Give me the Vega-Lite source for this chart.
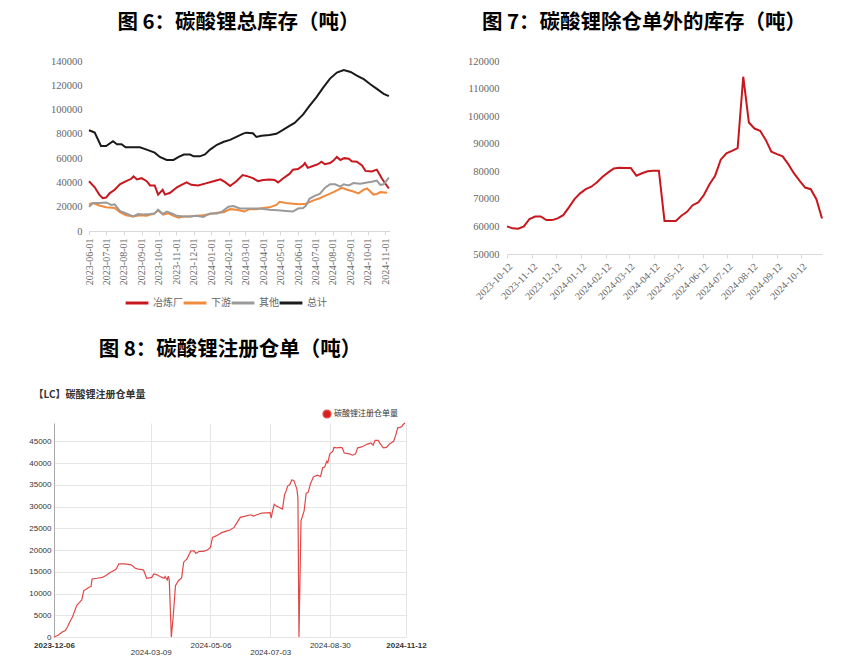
{
  "$schema": "https://vega.github.io/schema/vega-lite/v6.json",
  "padding": {"left": 26, "top": 12, "right": 0, "bottom": 0},
  "background": "white",
  "config": {
    "view": {"stroke": null},
    "title": {"font": "Noto Sans CJK SC", "fontSize": 20.5, "fontWeight": "bold", "color": "#000000", "anchor": "middle"},
    "axis": {"grid": false, "domain": false, "ticks": false, "labelFont": "Liberation Serif", "labelFontSize": 10.5, "labelColor": "#666666", "title": null}
  },
  "resolve": {"scale": {"color": "independent"}, "legend": {"color": "independent"}},
  "columns": 1,
  "align": "none",
  "spacing": 30,
  "datasets": {
    "inv": [
      {"date": "2023-06-01", "series": "总计", "value": 83000},
      {"date": "2023-06-11", "series": "总计", "value": 81000},
      {"date": "2023-06-22", "series": "总计", "value": 70000},
      {"date": "2023-07-01", "series": "总计", "value": 70000},
      {"date": "2023-07-13", "series": "总计", "value": 74000},
      {"date": "2023-07-20", "series": "总计", "value": 71500},
      {"date": "2023-07-28", "series": "总计", "value": 71500},
      {"date": "2023-08-04", "series": "总计", "value": 69000},
      {"date": "2023-08-29", "series": "总计", "value": 69000},
      {"date": "2023-09-10", "series": "总计", "value": 67000},
      {"date": "2023-09-24", "series": "总计", "value": 64500},
      {"date": "2023-10-03", "series": "总计", "value": 61000},
      {"date": "2023-10-15", "series": "总计", "value": 58500},
      {"date": "2023-10-27", "series": "总计", "value": 58500},
      {"date": "2023-11-05", "series": "总计", "value": 61000},
      {"date": "2023-11-14", "series": "总计", "value": 63000},
      {"date": "2023-11-25", "series": "总计", "value": 63000},
      {"date": "2023-12-01", "series": "总计", "value": 61500},
      {"date": "2023-12-12", "series": "总计", "value": 61500},
      {"date": "2023-12-21", "series": "总计", "value": 63000},
      {"date": "2023-12-30", "series": "总计", "value": 67000},
      {"date": "2024-01-11", "series": "总计", "value": 71000},
      {"date": "2024-01-23", "series": "总计", "value": 73500},
      {"date": "2024-02-03", "series": "总计", "value": 75000},
      {"date": "2024-02-14", "series": "总计", "value": 77500},
      {"date": "2024-02-25", "series": "总计", "value": 80000},
      {"date": "2024-03-02", "series": "总计", "value": 81000},
      {"date": "2024-03-14", "series": "总计", "value": 80500},
      {"date": "2024-03-20", "series": "总计", "value": 77500},
      {"date": "2024-03-29", "series": "总计", "value": 78500},
      {"date": "2024-04-12", "series": "总计", "value": 79000},
      {"date": "2024-04-24", "series": "总计", "value": 80000},
      {"date": "2024-05-05", "series": "总计", "value": 83000},
      {"date": "2024-05-17", "series": "总计", "value": 86500},
      {"date": "2024-05-26", "series": "总计", "value": 89000},
      {"date": "2024-06-10", "series": "总计", "value": 96000},
      {"date": "2024-06-21", "series": "总计", "value": 103000},
      {"date": "2024-07-03", "series": "总计", "value": 110000},
      {"date": "2024-07-15", "series": "总计", "value": 118000},
      {"date": "2024-07-27", "series": "总计", "value": 125500},
      {"date": "2024-08-08", "series": "总计", "value": 130500},
      {"date": "2024-08-20", "series": "总计", "value": 132500},
      {"date": "2024-09-01", "series": "总计", "value": 131000},
      {"date": "2024-09-12", "series": "总计", "value": 128000},
      {"date": "2024-09-24", "series": "总计", "value": 125000},
      {"date": "2024-10-05", "series": "总计", "value": 121000},
      {"date": "2024-10-17", "series": "总计", "value": 117000},
      {"date": "2024-10-29", "series": "总计", "value": 113000},
      {"date": "2024-11-07", "series": "总计", "value": 111000},
      {"date": "2023-06-01", "series": "冶炼厂", "value": 41000},
      {"date": "2023-06-11", "series": "冶炼厂", "value": 36000},
      {"date": "2023-06-19", "series": "冶炼厂", "value": 30000},
      {"date": "2023-06-25", "series": "冶炼厂", "value": 27000},
      {"date": "2023-07-01", "series": "冶炼厂", "value": 27500},
      {"date": "2023-07-07", "series": "冶炼厂", "value": 31000},
      {"date": "2023-07-16", "series": "冶炼厂", "value": 34000},
      {"date": "2023-07-25", "series": "冶炼厂", "value": 38500},
      {"date": "2023-08-05", "series": "冶炼厂", "value": 41000},
      {"date": "2023-08-14", "series": "冶炼厂", "value": 43000},
      {"date": "2023-08-18", "series": "冶炼厂", "value": 45000},
      {"date": "2023-08-24", "series": "冶炼厂", "value": 42500},
      {"date": "2023-09-01", "series": "冶炼厂", "value": 43500},
      {"date": "2023-09-10", "series": "冶炼厂", "value": 41000},
      {"date": "2023-09-16", "series": "冶炼厂", "value": 37500},
      {"date": "2023-09-24", "series": "冶炼厂", "value": 37500},
      {"date": "2023-09-30", "series": "冶炼厂", "value": 30000},
      {"date": "2023-10-08", "series": "冶炼厂", "value": 34000},
      {"date": "2023-10-12", "series": "冶炼厂", "value": 30000},
      {"date": "2023-10-21", "series": "冶炼厂", "value": 31500},
      {"date": "2023-11-02", "series": "冶炼厂", "value": 36000},
      {"date": "2023-11-10", "series": "冶炼厂", "value": 38000},
      {"date": "2023-11-19", "series": "冶炼厂", "value": 40000},
      {"date": "2023-11-27", "series": "冶炼厂", "value": 38000},
      {"date": "2023-12-09", "series": "冶炼厂", "value": 37500},
      {"date": "2023-12-21", "series": "冶炼厂", "value": 39000},
      {"date": "2024-01-05", "series": "冶炼厂", "value": 41000},
      {"date": "2024-01-17", "series": "冶炼厂", "value": 42500},
      {"date": "2024-01-26", "series": "冶炼厂", "value": 40000},
      {"date": "2024-02-03", "series": "冶炼厂", "value": 37000},
      {"date": "2024-02-14", "series": "冶炼厂", "value": 41000},
      {"date": "2024-02-25", "series": "冶炼厂", "value": 46000},
      {"date": "2024-03-05", "series": "冶炼厂", "value": 45000},
      {"date": "2024-03-14", "series": "冶炼厂", "value": 43500},
      {"date": "2024-03-23", "series": "冶炼厂", "value": 41000},
      {"date": "2024-04-01", "series": "冶炼厂", "value": 42000},
      {"date": "2024-04-12", "series": "冶炼厂", "value": 42500},
      {"date": "2024-04-21", "series": "冶炼厂", "value": 42000},
      {"date": "2024-04-27", "series": "冶炼厂", "value": 40000},
      {"date": "2024-05-05", "series": "冶炼厂", "value": 43000},
      {"date": "2024-05-17", "series": "冶炼厂", "value": 47000},
      {"date": "2024-05-23", "series": "冶炼厂", "value": 50500},
      {"date": "2024-06-01", "series": "冶炼厂", "value": 51000},
      {"date": "2024-06-10", "series": "冶炼厂", "value": 54000},
      {"date": "2024-06-13", "series": "冶炼厂", "value": 56000},
      {"date": "2024-06-18", "series": "冶炼厂", "value": 52000},
      {"date": "2024-06-27", "series": "冶炼厂", "value": 53500},
      {"date": "2024-07-06", "series": "冶炼厂", "value": 55000},
      {"date": "2024-07-12", "series": "冶炼厂", "value": 57000},
      {"date": "2024-07-18", "series": "冶炼厂", "value": 55000},
      {"date": "2024-07-27", "series": "冶炼厂", "value": 56000},
      {"date": "2024-08-02", "series": "冶炼厂", "value": 58000},
      {"date": "2024-08-08", "series": "冶炼厂", "value": 61000},
      {"date": "2024-08-14", "series": "冶炼厂", "value": 58500},
      {"date": "2024-08-21", "series": "冶炼厂", "value": 60000},
      {"date": "2024-08-29", "series": "冶炼厂", "value": 59500},
      {"date": "2024-09-03", "series": "冶炼厂", "value": 57500},
      {"date": "2024-09-12", "series": "冶炼厂", "value": 57000},
      {"date": "2024-09-21", "series": "冶炼厂", "value": 54000},
      {"date": "2024-09-27", "series": "冶炼厂", "value": 49500},
      {"date": "2024-10-08", "series": "冶炼厂", "value": 49000},
      {"date": "2024-10-17", "series": "冶炼厂", "value": 50500},
      {"date": "2024-10-26", "series": "冶炼厂", "value": 43000},
      {"date": "2024-11-07", "series": "冶炼厂", "value": 35000},
      {"date": "2023-06-01", "series": "下游", "value": 22000},
      {"date": "2023-06-08", "series": "下游", "value": 23000},
      {"date": "2023-06-19", "series": "下游", "value": 21000},
      {"date": "2023-07-01", "series": "下游", "value": 19500},
      {"date": "2023-07-16", "series": "下游", "value": 19000},
      {"date": "2023-07-25", "series": "下游", "value": 15500},
      {"date": "2023-08-05", "series": "下游", "value": 13000},
      {"date": "2023-08-17", "series": "下游", "value": 12000},
      {"date": "2023-08-29", "series": "下游", "value": 13000},
      {"date": "2023-09-10", "series": "下游", "value": 12500},
      {"date": "2023-09-24", "series": "下游", "value": 14500},
      {"date": "2023-09-30", "series": "下游", "value": 17000},
      {"date": "2023-10-09", "series": "下游", "value": 13500},
      {"date": "2023-10-18", "series": "下游", "value": 14500},
      {"date": "2023-10-27", "series": "下游", "value": 12500},
      {"date": "2023-11-05", "series": "下游", "value": 11000},
      {"date": "2023-11-13", "series": "下游", "value": 12000},
      {"date": "2023-11-25", "series": "下游", "value": 12000},
      {"date": "2023-12-06", "series": "下游", "value": 12500},
      {"date": "2023-12-18", "series": "下游", "value": 13000},
      {"date": "2023-12-30", "series": "下游", "value": 14000},
      {"date": "2024-01-11", "series": "下游", "value": 15000},
      {"date": "2024-01-23", "series": "下游", "value": 15500},
      {"date": "2024-02-03", "series": "下游", "value": 18000},
      {"date": "2024-02-14", "series": "下游", "value": 17500},
      {"date": "2024-02-28", "series": "下游", "value": 16000},
      {"date": "2024-03-08", "series": "下游", "value": 18000},
      {"date": "2024-03-20", "series": "下游", "value": 18000},
      {"date": "2024-04-01", "series": "下游", "value": 19000},
      {"date": "2024-04-12", "series": "下游", "value": 19500},
      {"date": "2024-04-24", "series": "下游", "value": 21500},
      {"date": "2024-04-30", "series": "下游", "value": 24000},
      {"date": "2024-05-11", "series": "下游", "value": 23000},
      {"date": "2024-05-23", "series": "下游", "value": 22500},
      {"date": "2024-06-04", "series": "下游", "value": 22000},
      {"date": "2024-06-15", "series": "下游", "value": 22500},
      {"date": "2024-06-27", "series": "下游", "value": 25000},
      {"date": "2024-07-09", "series": "下游", "value": 27000},
      {"date": "2024-07-21", "series": "下游", "value": 29500},
      {"date": "2024-08-02", "series": "下游", "value": 32000},
      {"date": "2024-08-08", "series": "下游", "value": 33500},
      {"date": "2024-08-17", "series": "下游", "value": 35500},
      {"date": "2024-08-26", "series": "下游", "value": 34000},
      {"date": "2024-09-06", "series": "下游", "value": 32500},
      {"date": "2024-09-15", "series": "下游", "value": 31000},
      {"date": "2024-09-24", "series": "下游", "value": 34000},
      {"date": "2024-09-30", "series": "下游", "value": 35000},
      {"date": "2024-10-11", "series": "下游", "value": 30000},
      {"date": "2024-10-17", "series": "下游", "value": 30500},
      {"date": "2024-10-23", "series": "下游", "value": 32000},
      {"date": "2024-11-04", "series": "下游", "value": 31500},
      {"date": "2023-06-01", "series": "其他", "value": 20000},
      {"date": "2023-06-08", "series": "其他", "value": 23000},
      {"date": "2023-06-19", "series": "其他", "value": 23000},
      {"date": "2023-07-01", "series": "其他", "value": 23500},
      {"date": "2023-07-10", "series": "其他", "value": 21500},
      {"date": "2023-07-16", "series": "其他", "value": 22000},
      {"date": "2023-07-25", "series": "其他", "value": 16500},
      {"date": "2023-08-05", "series": "其他", "value": 14500},
      {"date": "2023-08-17", "series": "其他", "value": 12000},
      {"date": "2023-08-26", "series": "其他", "value": 14000},
      {"date": "2023-09-04", "series": "其他", "value": 13500},
      {"date": "2023-09-16", "series": "其他", "value": 14000},
      {"date": "2023-09-24", "series": "其他", "value": 14500},
      {"date": "2023-09-30", "series": "其他", "value": 17500},
      {"date": "2023-10-08", "series": "其他", "value": 14000},
      {"date": "2023-10-15", "series": "其他", "value": 16000},
      {"date": "2023-10-24", "series": "其他", "value": 14500},
      {"date": "2023-11-02", "series": "其他", "value": 12500},
      {"date": "2023-11-13", "series": "其他", "value": 12000},
      {"date": "2023-11-25", "series": "其他", "value": 12000},
      {"date": "2023-12-06", "series": "其他", "value": 12500},
      {"date": "2023-12-18", "series": "其他", "value": 11500},
      {"date": "2023-12-30", "series": "其他", "value": 14500},
      {"date": "2024-01-11", "series": "其他", "value": 14500},
      {"date": "2024-01-20", "series": "其他", "value": 16000},
      {"date": "2024-01-31", "series": "其他", "value": 20000},
      {"date": "2024-02-09", "series": "其他", "value": 20500},
      {"date": "2024-02-20", "series": "其他", "value": 18500},
      {"date": "2024-02-28", "series": "其他", "value": 18500},
      {"date": "2024-03-14", "series": "其他", "value": 18500},
      {"date": "2024-03-26", "series": "其他", "value": 18500},
      {"date": "2024-04-12", "series": "其他", "value": 17500},
      {"date": "2024-04-27", "series": "其他", "value": 17000},
      {"date": "2024-05-11", "series": "其他", "value": 16500},
      {"date": "2024-05-23", "series": "其他", "value": 16000},
      {"date": "2024-06-01", "series": "其他", "value": 18500},
      {"date": "2024-06-10", "series": "其他", "value": 19000},
      {"date": "2024-06-15", "series": "其他", "value": 21000},
      {"date": "2024-06-21", "series": "其他", "value": 26500},
      {"date": "2024-06-30", "series": "其他", "value": 29000},
      {"date": "2024-07-09", "series": "其他", "value": 30500},
      {"date": "2024-07-18", "series": "其他", "value": 35500},
      {"date": "2024-07-27", "series": "其他", "value": 38500},
      {"date": "2024-08-05", "series": "其他", "value": 38500},
      {"date": "2024-08-14", "series": "其他", "value": 36500},
      {"date": "2024-08-20", "series": "其他", "value": 38500},
      {"date": "2024-08-29", "series": "其他", "value": 37500},
      {"date": "2024-09-06", "series": "其他", "value": 39500},
      {"date": "2024-09-18", "series": "其他", "value": 39000},
      {"date": "2024-09-30", "series": "其他", "value": 40000},
      {"date": "2024-10-08", "series": "其他", "value": 40500},
      {"date": "2024-10-17", "series": "其他", "value": 41500},
      {"date": "2024-10-23", "series": "其他", "value": 38000},
      {"date": "2024-10-29", "series": "其他", "value": 38500},
      {"date": "2024-11-07", "series": "其他", "value": 44000}
    ],
    "ex": [
      {"date": "2023-10-12", "value": 60000},
      {"date": "2023-10-19", "value": 59300},
      {"date": "2023-10-26", "value": 59200},
      {"date": "2023-11-02", "value": 60000},
      {"date": "2023-11-09", "value": 62700},
      {"date": "2023-11-16", "value": 63600},
      {"date": "2023-11-23", "value": 63600},
      {"date": "2023-11-30", "value": 62300},
      {"date": "2023-12-07", "value": 62300},
      {"date": "2023-12-14", "value": 62900},
      {"date": "2023-12-21", "value": 64100},
      {"date": "2023-12-28", "value": 66900},
      {"date": "2024-01-04", "value": 69900},
      {"date": "2024-01-11", "value": 72000},
      {"date": "2024-01-18", "value": 73500},
      {"date": "2024-01-25", "value": 74400},
      {"date": "2024-02-01", "value": 76000},
      {"date": "2024-02-08", "value": 78000},
      {"date": "2024-02-15", "value": 79600},
      {"date": "2024-02-22", "value": 81000},
      {"date": "2024-02-29", "value": 81300},
      {"date": "2024-03-07", "value": 81200},
      {"date": "2024-03-14", "value": 81200},
      {"date": "2024-03-21", "value": 78400},
      {"date": "2024-03-28", "value": 79300},
      {"date": "2024-04-04", "value": 80000},
      {"date": "2024-04-11", "value": 80200},
      {"date": "2024-04-18", "value": 80200},
      {"date": "2024-04-25", "value": 62000},
      {"date": "2024-05-02", "value": 62000},
      {"date": "2024-05-09", "value": 62000},
      {"date": "2024-05-16", "value": 63900},
      {"date": "2024-05-23", "value": 65300},
      {"date": "2024-05-30", "value": 67700},
      {"date": "2024-06-06", "value": 68700},
      {"date": "2024-06-13", "value": 71400},
      {"date": "2024-06-20", "value": 75300},
      {"date": "2024-06-27", "value": 78400},
      {"date": "2024-07-04", "value": 84200},
      {"date": "2024-07-11", "value": 86500},
      {"date": "2024-07-18", "value": 87400},
      {"date": "2024-07-25", "value": 88400},
      {"date": "2024-08-01", "value": 114300},
      {"date": "2024-08-08", "value": 97700},
      {"date": "2024-08-15", "value": 95500},
      {"date": "2024-08-22", "value": 94700},
      {"date": "2024-08-29", "value": 91400},
      {"date": "2024-09-05", "value": 87100},
      {"date": "2024-09-12", "value": 86200},
      {"date": "2024-09-19", "value": 85400},
      {"date": "2024-09-26", "value": 82600},
      {"date": "2024-10-03", "value": 79300},
      {"date": "2024-10-10", "value": 76600},
      {"date": "2024-10-17", "value": 74100},
      {"date": "2024-10-24", "value": 73500},
      {"date": "2024-10-31", "value": 69900},
      {"date": "2024-11-07", "value": 62900}
    ],
    "wr": [
      {"date": "2023-12-06", "value": 0},
      {"date": "2023-12-10", "value": 400},
      {"date": "2023-12-14", "value": 1150},
      {"date": "2023-12-17", "value": 1500},
      {"date": "2023-12-19", "value": 2300},
      {"date": "2023-12-22", "value": 3800},
      {"date": "2023-12-24", "value": 4600},
      {"date": "2023-12-28", "value": 7250},
      {"date": "2023-12-31", "value": 8000},
      {"date": "2024-01-02", "value": 8550},
      {"date": "2024-01-04", "value": 10700},
      {"date": "2024-01-06", "value": 10900},
      {"date": "2024-01-09", "value": 11450},
      {"date": "2024-01-11", "value": 11600},
      {"date": "2024-01-12", "value": 13350},
      {"date": "2024-01-17", "value": 13500},
      {"date": "2024-01-22", "value": 13700},
      {"date": "2024-01-25", "value": 14100},
      {"date": "2024-01-30", "value": 14900},
      {"date": "2024-02-04", "value": 15500},
      {"date": "2024-02-05", "value": 15900},
      {"date": "2024-02-07", "value": 16800},
      {"date": "2024-02-13", "value": 16800},
      {"date": "2024-02-19", "value": 16600},
      {"date": "2024-02-23", "value": 15800},
      {"date": "2024-02-26", "value": 15600},
      {"date": "2024-03-01", "value": 15500},
      {"date": "2024-03-02", "value": 15400},
      {"date": "2024-03-05", "value": 13500},
      {"date": "2024-03-10", "value": 13700},
      {"date": "2024-03-12", "value": 14500},
      {"date": "2024-03-15", "value": 14300},
      {"date": "2024-03-18", "value": 13900},
      {"date": "2024-03-20", "value": 13700},
      {"date": "2024-03-22", "value": 13500},
      {"date": "2024-03-23", "value": 13900},
      {"date": "2024-03-25", "value": 13100},
      {"date": "2024-03-26", "value": 14000},
      {"date": "2024-03-27", "value": 13000},
      {"date": "2024-03-29", "value": 0},
      {"date": "2024-03-31", "value": 5300},
      {"date": "2024-04-02", "value": 11800},
      {"date": "2024-04-05", "value": 13000},
      {"date": "2024-04-08", "value": 13600},
      {"date": "2024-04-10", "value": 17200},
      {"date": "2024-04-13", "value": 17900},
      {"date": "2024-04-17", "value": 19800},
      {"date": "2024-04-20", "value": 19800},
      {"date": "2024-04-22", "value": 19200},
      {"date": "2024-04-25", "value": 19700},
      {"date": "2024-04-29", "value": 19700},
      {"date": "2024-05-03", "value": 20000},
      {"date": "2024-05-06", "value": 20600},
      {"date": "2024-05-08", "value": 22900},
      {"date": "2024-05-12", "value": 23300},
      {"date": "2024-05-17", "value": 24000},
      {"date": "2024-05-22", "value": 24400},
      {"date": "2024-05-25", "value": 24600},
      {"date": "2024-05-29", "value": 25200},
      {"date": "2024-06-04", "value": 27500},
      {"date": "2024-06-09", "value": 27800},
      {"date": "2024-06-14", "value": 28100},
      {"date": "2024-06-17", "value": 27800},
      {"date": "2024-06-20", "value": 28100},
      {"date": "2024-06-25", "value": 28500},
      {"date": "2024-07-03", "value": 28600},
      {"date": "2024-07-04", "value": 27300},
      {"date": "2024-07-05", "value": 28600},
      {"date": "2024-07-07", "value": 30500},
      {"date": "2024-07-09", "value": 30100},
      {"date": "2024-07-15", "value": 29400},
      {"date": "2024-07-17", "value": 32800},
      {"date": "2024-07-18", "value": 33200},
      {"date": "2024-07-20", "value": 34700},
      {"date": "2024-07-22", "value": 35000},
      {"date": "2024-07-24", "value": 36100},
      {"date": "2024-07-26", "value": 36000},
      {"date": "2024-07-29", "value": 34000},
      {"date": "2024-07-30", "value": 32000},
      {"date": "2024-07-31", "value": 0},
      {"date": "2024-08-02", "value": 26700},
      {"date": "2024-08-05", "value": 29000},
      {"date": "2024-08-07", "value": 33000},
      {"date": "2024-08-09", "value": 33300},
      {"date": "2024-08-11", "value": 35100},
      {"date": "2024-08-14", "value": 36800},
      {"date": "2024-08-18", "value": 37200},
      {"date": "2024-08-21", "value": 36900},
      {"date": "2024-08-23", "value": 38900},
      {"date": "2024-08-25", "value": 39100},
      {"date": "2024-08-27", "value": 40400},
      {"date": "2024-08-28", "value": 40100},
      {"date": "2024-08-30", "value": 42100},
      {"date": "2024-09-02", "value": 42700},
      {"date": "2024-09-03", "value": 43600},
      {"date": "2024-09-06", "value": 43500},
      {"date": "2024-09-09", "value": 43600},
      {"date": "2024-09-11", "value": 43500},
      {"date": "2024-09-13", "value": 42300},
      {"date": "2024-09-18", "value": 42100},
      {"date": "2024-09-21", "value": 41800},
      {"date": "2024-09-24", "value": 42100},
      {"date": "2024-09-26", "value": 43500},
      {"date": "2024-09-30", "value": 43700},
      {"date": "2024-10-05", "value": 44300},
      {"date": "2024-10-09", "value": 44600},
      {"date": "2024-10-11", "value": 44100},
      {"date": "2024-10-13", "value": 45200},
      {"date": "2024-10-16", "value": 45200},
      {"date": "2024-10-18", "value": 44400},
      {"date": "2024-10-21", "value": 43500},
      {"date": "2024-10-24", "value": 43600},
      {"date": "2024-10-27", "value": 44400},
      {"date": "2024-10-31", "value": 45000},
      {"date": "2024-11-02", "value": 46400},
      {"date": "2024-11-04", "value": 48100},
      {"date": "2024-11-06", "value": 48200},
      {"date": "2024-11-08", "value": 48400},
      {"date": "2024-11-09", "value": 48800},
      {"date": "2024-11-11", "value": 49200}
    ]
  },
  "concat": [
    {
      "spacing": 69,
      "resolve": {"scale": {"color": "independent"}, "legend": {"color": "independent"}},
      "hconcat": [
        {
          "title": {"text": "图 6：碳酸锂总库存（吨）", "dx": 16.5, "offset": 23},
          "width": 336,
          "height": 170,
          "data": {"name": "inv"},
          "mark": {"type": "line", "strokeWidth": 2},
          "encoding": {
            "x": {
              "field": "date", "type": "temporal",
              "scale": {"type": "utc", "range": [35, 336], "domain": [{"year": 2023, "month": 6, "date": 1, "utc": true}, {"year": 2024, "month": 11, "date": 9, "utc": true}]},
              "axis": {
                "values": [
                  {"year": 2023, "month": 6, "date": 1, "utc": true},
                  {"year": 2023, "month": 7, "date": 1, "utc": true},
                  {"year": 2023, "month": 8, "date": 1, "utc": true},
                  {"year": 2023, "month": 9, "date": 1, "utc": true},
                  {"year": 2023, "month": 10, "date": 1, "utc": true},
                  {"year": 2023, "month": 11, "date": 1, "utc": true},
                  {"year": 2023, "month": 12, "date": 1, "utc": true},
                  {"year": 2024, "month": 1, "date": 1, "utc": true},
                  {"year": 2024, "month": 2, "date": 1, "utc": true},
                  {"year": 2024, "month": 3, "date": 1, "utc": true},
                  {"year": 2024, "month": 4, "date": 1, "utc": true},
                  {"year": 2024, "month": 5, "date": 1, "utc": true},
                  {"year": 2024, "month": 6, "date": 1, "utc": true},
                  {"year": 2024, "month": 7, "date": 1, "utc": true},
                  {"year": 2024, "month": 8, "date": 1, "utc": true},
                  {"year": 2024, "month": 9, "date": 1, "utc": true},
                  {"year": 2024, "month": 10, "date": 1, "utc": true},
                  {"year": 2024, "month": 11, "date": 1, "utc": true}
                ],
                "format": "%Y-%m-%d", "labelAngle": -90, "labelFontSize": 10, "labelPadding": 3,
                "domain": true, "domainColor": "#d9d9d9", "ticks": true, "tickColor": "#d9d9d9", "tickSize": 4,
                "labelOverlap": false, "labelFlush": false
              }
            },
            "y": {
              "field": "value", "type": "quantitative",
              "scale": {"domain": [0, 140000], "nice": false},
              "axis": {"values": [0, 20000, 40000, 60000, 80000, 100000, 120000, 140000], "format": "d", "labelPadding": 7, "offset": -35}
            },
            "color": {
              "field": "series", "type": "nominal",
              "scale": {"domain": ["冶炼厂", "下游", "其他", "总计"], "range": ["#C8171E", "#F08A3C", "#9A9A9A", "#1A1A1A"]},
              "legend": {
                "orient": "none", "legendX": 70, "legendY": 229, "direction": "horizontal", "title": null,
                "symbolType": "stroke", "symbolSize": 520, "symbolStrokeWidth": 3, "gridAlign": "none",
                "labelFont": "Noto Sans CJK SC", "labelFontSize": 10, "labelColor": "#666666",
                "labelOffset": 3, "columnPadding": -6
              }
            }
          }
        },
        {
          "title": {"text": "图 7：碳酸锂除仓单外的库存（吨）", "dx": -20.5, "offset": 23},
          "width": 315,
          "height": 193,
          "data": {"name": "ex"},
          "mark": {"type": "line", "color": "#C8171E", "strokeWidth": 2},
          "encoding": {
            "x": {
              "field": "date", "type": "temporal",
              "scale": {"type": "utc", "domain": [{"year": 2023, "month": 10, "date": 12, "utc": true}, {"year": 2024, "month": 11, "date": 7, "utc": true}]},
              "axis": {
                "values": [
                  {"year": 2023, "month": 10, "date": 12, "utc": true},
                  {"year": 2023, "month": 11, "date": 12, "utc": true},
                  {"year": 2023, "month": 12, "date": 12, "utc": true},
                  {"year": 2024, "month": 1, "date": 12, "utc": true},
                  {"year": 2024, "month": 2, "date": 12, "utc": true},
                  {"year": 2024, "month": 3, "date": 12, "utc": true},
                  {"year": 2024, "month": 4, "date": 12, "utc": true},
                  {"year": 2024, "month": 5, "date": 12, "utc": true},
                  {"year": 2024, "month": 6, "date": 12, "utc": true},
                  {"year": 2024, "month": 7, "date": 12, "utc": true},
                  {"year": 2024, "month": 8, "date": 12, "utc": true},
                  {"year": 2024, "month": 9, "date": 12, "utc": true},
                  {"year": 2024, "month": 10, "date": 12, "utc": true}
                ],
                "format": "%Y-%m-%d", "labelAngle": -45, "labelFontSize": 10, "labelPadding": 3,
                "domain": true, "domainColor": "#d9d9d9", "ticks": true, "tickColor": "#d9d9d9", "tickSize": 4,
                "labelOverlap": false, "labelFlush": false
              }
            },
            "y": {
              "field": "value", "type": "quantitative",
              "scale": {"domain": [50000, 120000], "nice": false, "zero": false},
              "axis": {"values": [50000, 60000, 70000, 80000, 90000, 100000, 110000, 120000], "format": "d", "labelPadding": 8, "minExtent": 45, "maxExtent": 45}
            }
          }
        }
      ]
    },
    {
      "title": {"text": "图 8：碳酸锂注册仓单（吨）", "dx": 0, "offset": 29},
      "width": 352,
      "height": 214,
      "data": {"name": "wr"},
      "mark": {"type": "line", "strokeWidth": 1.2},
      "encoding": {
        "x": {
          "field": "date", "type": "temporal",
          "scale": {"type": "utc", "domain": [{"year": 2023, "month": 12, "date": 6, "utc": true}, {"year": 2024, "month": 11, "date": 12, "utc": true}]},
          "axis": {
            "values": [
              {"year": 2023, "month": 12, "date": 6, "utc": true},
              {"year": 2024, "month": 3, "date": 9, "utc": true},
              {"year": 2024, "month": 5, "date": 6, "utc": true},
              {"year": 2024, "month": 7, "date": 3, "utc": true},
              {"year": 2024, "month": 8, "date": 30, "utc": true},
              {"year": 2024, "month": 11, "date": 12, "utc": true}
            ],
            "format": "%Y-%m-%d", "grid": true, "gridColor": "#e6e6e6",
            "labelFont": "Liberation Sans", "labelFontSize": 8, "labelColor": "#333333", "labelAngle": 0,
            "labelPadding": 4, "labelLineHeight": 7, "labelFlush": false, "labelOverlap": false,
            "labelFontWeight": {"condition": {"test": "datum.index == 0 || datum.index == 1", "value": "bold"}, "value": "normal"},
            "labelExpr": "(datum.index > 0.1 && datum.index < 0.3) || (datum.index > 0.5 && datum.index < 0.7) ? ['', datum.label] : datum.label"
          }
        },
        "y": {
          "field": "value", "type": "quantitative",
          "scale": {"domain": [0, 49200], "nice": false},
          "axis": {
            "values": [0, 5000, 10000, 15000, 20000, 25000, 30000, 35000, 40000, 45000], "format": "d",
            "grid": true, "gridColor": "#e6e6e6", "domain": true, "domainColor": "#aaaaaa",
            "labelFont": "Liberation Sans", "labelFontSize": 8, "labelColor": "#333333", "labelPadding": 3,
            "minExtent": 28, "maxExtent": 28,
            "title": "【LC】碳酸锂注册仓单量", "titleAngle": 0, "titleAlign": "left", "titleBaseline": "middle",
            "titleX": -21, "titleY": -29, "titleFont": "Noto Sans CJK SC", "titleFontSize": 10, "titleFontWeight": "bold", "titleColor": "#333333"
          }
        },
        "color": {
          "datum": "碳酸锂注册仓单量",
          "scale": {"range": ["#E04848"]},
          "legend": {
            "orient": "none", "legendX": 268, "legendY": -14, "title": null,
            "symbolType": "circle", "symbolSize": 60, "symbolFillColor": "#D42020", "symbolStrokeColor": "#D42020",
            "labelFont": "Noto Sans CJK SC", "labelFontSize": 8, "labelColor": "#333333", "labelOffset": 2
          }
        }
      }
    }
  ]
}
